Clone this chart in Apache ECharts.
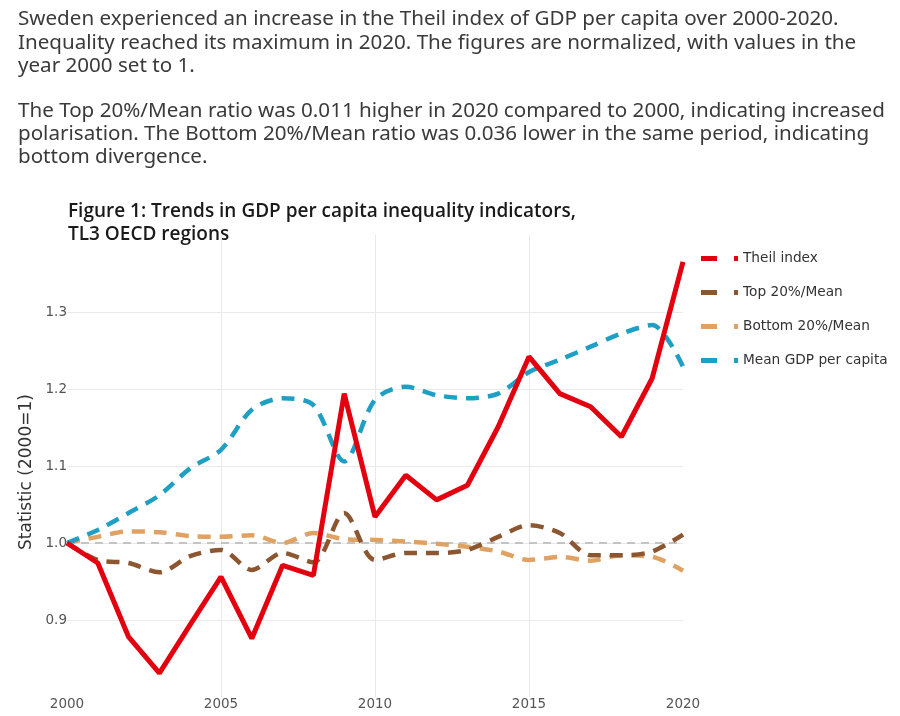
<!DOCTYPE html>
<html>
<head>
<meta charset="utf-8">
<script src="https://cdn.jsdelivr.net/npm/echarts@6/dist/echarts.min.js"></script>
<style>
html,body{margin:0;padding:0;background:#fff;}
#chart{width:900px;height:716px;}
</style>
</head>
<body>
<div id="chart"></div>
<script>
const years = [2000,2001,2002,2003,2004,2005,2006,2007,2008,2009,2010,2011,2012,2013,2014,2015,2016,2017,2018,2019,2020];
const theil = [1.0,0.974,0.878,0.831,0.894,0.956,0.876,0.971,0.958,1.194,1.034,1.088,1.056,1.075,1.151,1.242,1.194,1.177,1.138,1.214,1.365];
const top20 = [1.0,0.978,0.974,0.962,0.983,0.991,0.965,0.987,0.975,1.039,0.978,0.987,0.987,0.991,1.008,1.023,1.013,0.984,0.984,0.989,1.011];
const bottom20 = [1.0,1.008,1.015,1.014,1.009,1.008,1.010,1.000,1.013,1.005,1.004,1.002,0.999,0.995,0.989,0.978,0.982,0.977,0.984,0.982,0.964];
const meanGdp = [1.0,1.017,1.039,1.062,1.097,1.121,1.173,1.188,1.179,1.106,1.186,1.203,1.192,1.188,1.194,1.222,1.238,1.255,1.272,1.283,1.229];
const seriesNames = ['Theil index','Top 20%/Mean','Bottom 20%/Mean','Mean GDP per capita'];
const xTicks = [2000,2005,2010,2015,2020];
const yTicks = [0.9,1.0,1.1,1.2,1.3];

const para1 = 'Sweden experienced an increase in the Theil index of GDP per capita over 2000-2020.\nInequality reached its maximum in 2020. The figures are normalized, with values in the\nyear 2000 set to 1.';
const para2 = 'The Top 20%/Mean ratio was 0.011 higher in 2020 compared to 2000, indicating increased\npolarisation. The Bottom 20%/Mean ratio was 0.036 lower in the same period, indicating\nbottom divergence.';
const figTitle = 'Figure 1: Trends in GDP per capita inequality indicators,\nTL3 OECD regions';

const pair = arr => years.map((y,i)=>[y,arr[i]]);
const legendIcon = 'path://M0,0H16V5H0Z M33,0H37V5H33Z';
const dashType = [13,9];

const chart = echarts.init(document.getElementById('chart'));
chart.setOption({
  animation:false,
  backgroundColor:'#fff',
  graphic:[
    {type:'text', left:18, top:7, style:{text:para1, font:'20.6px "Noto Sans"', fill:'#3a3a3a', lineHeight:23.8}},
    {type:'text', left:18, top:99, style:{text:para2, font:'20.6px "Noto Sans"', fill:'#3a3a3a', lineHeight:23.3}},
    {type:'text', left:68, top:200, style:{text:figTitle, font:'600 19px "Open Sans"', fill:'#1a1a1a', lineHeight:23}}
  ],
  grid:{left:67, right:217, top:235, bottom:19, containLabel:false},
  legend:{
    orient:'vertical', left:696, top:246,
    itemWidth:37, itemHeight:5, itemGap:19,
    icon:legendIcon,
    data:seriesNames,
    textStyle:{fontFamily:'DejaVu Sans', fontSize:13.7, color:'#333', lineHeight:15}
  },
  xAxis:{
    type:'value', min:2000, max:2020, interval:5,
    axisLine:{show:false}, axisTick:{show:false},
    axisLabel:{margin:0, fontFamily:'DejaVu Sans', fontSize:13.5, color:'#555',
      formatter:v=> xTicks.includes(v) ? String(v) : ''},
    splitLine:{show:true, lineStyle:{color:['transparent','#e9e9e9','#e9e9e9','#e9e9e9','transparent'], width:1}}
  },
  yAxis:{
    type:'value', min:0.8, max:1.4, interval:0.1,
    name:'Statistic (2000=1)', nameLocation:'middle', nameGap:9,
    nameTextStyle:{fontFamily:'DejaVu Sans', fontSize:17, color:'#333', padding:[0,12,0,0]},
    axisLine:{show:false}, axisTick:{show:false},
    axisLabel:{margin:0, fontFamily:'DejaVu Sans', fontSize:13.5, color:'#555',
      formatter:v=>{const r=Math.round(v*10)/10; return yTicks.some(t=>Math.abs(t-r)<1e-9) ? r.toFixed(1) : '';}},
    splitLine:{show:true, lineStyle:{color:['transparent','#e9e9e9','#e9e9e9','#e9e9e9','#e9e9e9','#e9e9e9','transparent'], width:1}}
  },
  series:[
    {name:'Bottom 20%/Mean', type:'line', z:2, data:pair(bottom20), showSymbol:false, smooth:0.3,
      itemStyle:{color:'#e0a262'}, lineStyle:{color:'#e0a262', width:4.5, type:dashType},
      markLine:{silent:true, symbol:'none', label:{show:false}, z:1,
        lineStyle:{color:'#c4c4c4', width:1.8, type:[8,6]}, data:[{yAxis:1}]}},
    {name:'Top 20%/Mean', type:'line', z:3, data:pair(top20), showSymbol:false, smooth:0.3,
      itemStyle:{color:'#8c5630'}, lineStyle:{color:'#8c5630', width:4.5, type:dashType}},
    {name:'Mean GDP per capita', type:'line', z:4, data:pair(meanGdp), showSymbol:false, smooth:0.3,
      itemStyle:{color:'#1f9fc4'}, lineStyle:{color:'#1f9fc4', width:4.5, type:dashType}},
    {name:'Theil index', type:'line', z:5, data:pair(theil), showSymbol:false,
      itemStyle:{color:'#e3000f'}, lineStyle:{color:'#e3000f', width:5}}
  ]
});
</script>
</body>
</html>
